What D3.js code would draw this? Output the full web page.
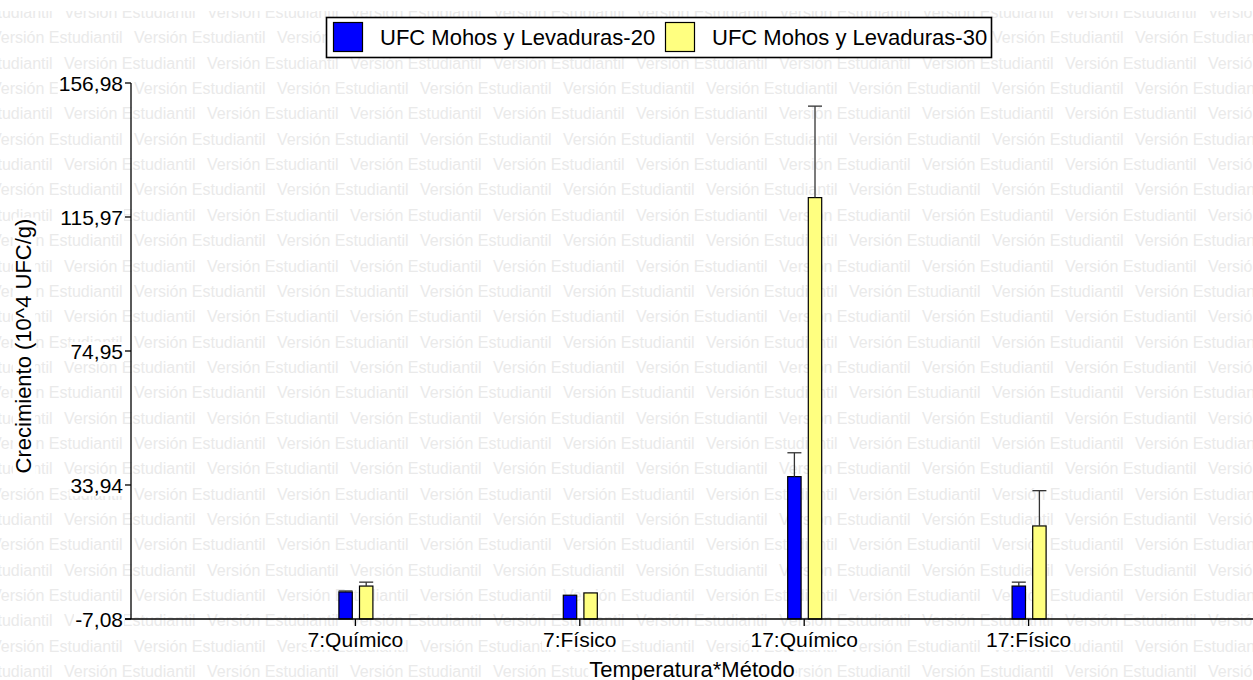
<!DOCTYPE html>
<html>
<head>
<meta charset="utf-8">
<script src="https://cdn.jsdelivr.net/npm/d3@7"></script>
<style>
  html, body { margin: 0; padding: 0; background: #fff; }
  svg { display: block; font-family: "Liberation Sans", Arial, sans-serif; }
</style>
</head>
<body>
<svg id="chart" width="1253" height="680"></svg>
<script>
// Group categories (temperature * method)
const categories = ["7:Químico", "7:Físico", "17:Químico", "17:Físico"];
// Series names
const seriesNames = ["UFC Mohos y Levaduras-20", "UFC Mohos y Levaduras-30"];
// Mean growth (10^4 UFC/g) per category
const values20 = [1.2, 0.2, 36.5, 3.0];
const values30 = [3.0, 0.9, 121.9, 21.4];
// Upper error-bar length per category
const errors20 = [0.3, 0, 7.3, 1.2];
const errors30 = [1.2, 0, 28.0, 10.8];
// Axis range and tick values
const yDomain = [-7.08, 156.98];
const yTickValues = [-7.08, 33.94, 74.95, 115.97, 156.98];
const seriesColors = ["#0000ff", "#ffff80"];
const watermarkText = "Versión Estudiantil";

const W = 1253, H = 680;
const svg = d3.select("#chart");
svg.append("rect").attr("width", W).attr("height", H).attr("fill", "#fff");

// Repeating watermark rows behind everything
svg.append("clipPath").attr("id", "wmclip")
  .append("rect").attr("x", 0).attr("y", 11).attr("width", W).attr("height", H - 11);
const wm = svg.append("g").attr("clip-path", "url(#wmclip)")
  .attr("font-size", 16).attr("fill", "#eaeaea");
const rowStep = 25.35, colStep = 143;
for (let r = 0; r < 27; r++) {
  const y = 18 + r * rowStep;
  const x0 = (r % 2 === 0) ? 64 - colStep : 134 - colStep;
  for (let x = x0; x < W; x += colStep) {
    wm.append("text").attr("x", x).attr("y", y).text(watermarkText);
  }
}

const plot = { left: 131, right: 1253, top: 83, bottom: 619 };

const x = d3.scalePoint().domain(categories).range([plot.left, plot.right]).padding(1);
const xInner = d3.scaleBand().domain([0, 1]).range([-17, 17]).paddingInner(0.35);
const y = d3.scaleLinear().domain(yDomain).range([plot.bottom, plot.top]);

// Text with an opaque white box behind it
function labelWithBg(g, setup) {
  const t = g.append("text");
  setup(t);
  const b = t.node().getBBox();
  g.insert("rect", () => t.node())
    .attr("x", b.x - 1).attr("y", b.y + 2).attr("width", b.width + 2).attr("height", b.height - 3)
    .attr("fill", "#fff");
  return t;
}

// Bars
const rows = categories.map((c, i) => ({
  cat: c,
  s: [
    { k: 0, v: values20[i], e: errors20[i] },
    { k: 1, v: values30[i], e: errors30[i] }
  ]
}));

const groups = svg.append("g").selectAll("g").data(rows).join("g")
  .attr("transform", d => `translate(${x(d.cat)},0)`);

groups.selectAll("rect.bar").data(d => d.s).join("rect")
  .attr("class", "bar")
  .attr("x", d => xInner(d.k) + 0.5)
  .attr("y", d => y(d.v))
  .attr("width", xInner.bandwidth())
  .attr("height", d => y(yDomain[0]) - y(d.v))
  .attr("fill", d => seriesColors[d.k])
  .attr("stroke", "#000").attr("stroke-width", 1.2);

// Error bars (upper only)
const eb = groups.selectAll("g.err").data(d => d.s.filter(s => s.e > 0)).join("g")
  .attr("class", "err").attr("stroke", "#333").attr("stroke-width", 1.3);
eb.append("line")
  .attr("x1", d => xInner(d.k) + 0.5 + xInner.bandwidth() / 2)
  .attr("x2", d => xInner(d.k) + 0.5 + xInner.bandwidth() / 2)
  .attr("y1", d => y(d.v)).attr("y2", d => y(d.v + d.e));
eb.append("line")
  .attr("x1", d => xInner(d.k) + 0.5 + xInner.bandwidth() / 2 - 7)
  .attr("x2", d => xInner(d.k) + 0.5 + xInner.bandwidth() / 2 + 7)
  .attr("y1", d => y(d.v + d.e)).attr("y2", d => y(d.v + d.e));

// Axes lines and ticks
const axes = svg.append("g").attr("stroke", "#000").attr("stroke-width", 1.3);
axes.append("line").attr("x1", plot.left).attr("x2", plot.left)
  .attr("y1", plot.top).attr("y2", plot.bottom);
axes.append("line").attr("x1", plot.left - 6).attr("x2", plot.right)
  .attr("y1", plot.bottom).attr("y2", plot.bottom);
axes.selectAll("line.yt").data(yTickValues).join("line").attr("class", "yt")
  .attr("x1", plot.left - 6).attr("x2", plot.left)
  .attr("y1", d => y(d)).attr("y2", d => y(d));
axes.selectAll("line.xt").data(categories).join("line").attr("class", "xt")
  .attr("x1", d => x(d)).attr("x2", d => x(d))
  .attr("y1", plot.bottom).attr("y2", plot.bottom + 7);

// Decimal comma, plain hyphen for negatives
const locale = d3.formatLocale({ decimal: ",", thousands: ".", grouping: [3], currency: ["", ""], minus: "-" });
const fmt = locale.format(".2f");
const labels = svg.append("g").attr("fill", "#000");
yTickValues.forEach(v => {
  labelWithBg(labels, t => t.attr("x", plot.left - 8).attr("y", y(v) + 8)
    .attr("text-anchor", "end").attr("font-size", 21).text(fmt(v)));
});
categories.forEach(c => {
  labelWithBg(labels, t => t.attr("x", x(c)).attr("y", 647)
    .attr("text-anchor", "middle").attr("font-size", 21).text(c));
});

// Axis titles
labelWithBg(labels, t => t.attr("x", (plot.left + plot.right) / 2).attr("y", 677)
  .attr("text-anchor", "middle").attr("font-size", 22).text("Temperatura*Método"));
const yt = labels.append("g").attr("transform", `translate(31,${(plot.top + plot.bottom) / 2 - 5}) rotate(-90)`);
labelWithBg(yt, t => t.attr("x", 0).attr("y", 0)
  .attr("text-anchor", "middle").attr("font-size", 22).text("Crecimiento (10^4 UFC/g)"));

// Legend
const lg = svg.append("g");
lg.append("rect").attr("x", 326.5).attr("y", 17.5).attr("width", 665).attr("height", 40)
  .attr("fill", "#fff").attr("stroke", "#000").attr("stroke-width", 1.6);
const legendX = [333, 665];
seriesNames.forEach((n, i) => {
  lg.append("rect").attr("x", legendX[i] + 0.5).attr("y", 22.5).attr("width", 29).attr("height", 29)
    .attr("fill", seriesColors[i]).attr("stroke", "#000").attr("stroke-width", 1.2);
  lg.append("text").attr("x", legendX[i] + 47).attr("y", 45).attr("font-size", 22)
    .attr("fill", "#000").text(n);
});
</script>
</body>
</html>
